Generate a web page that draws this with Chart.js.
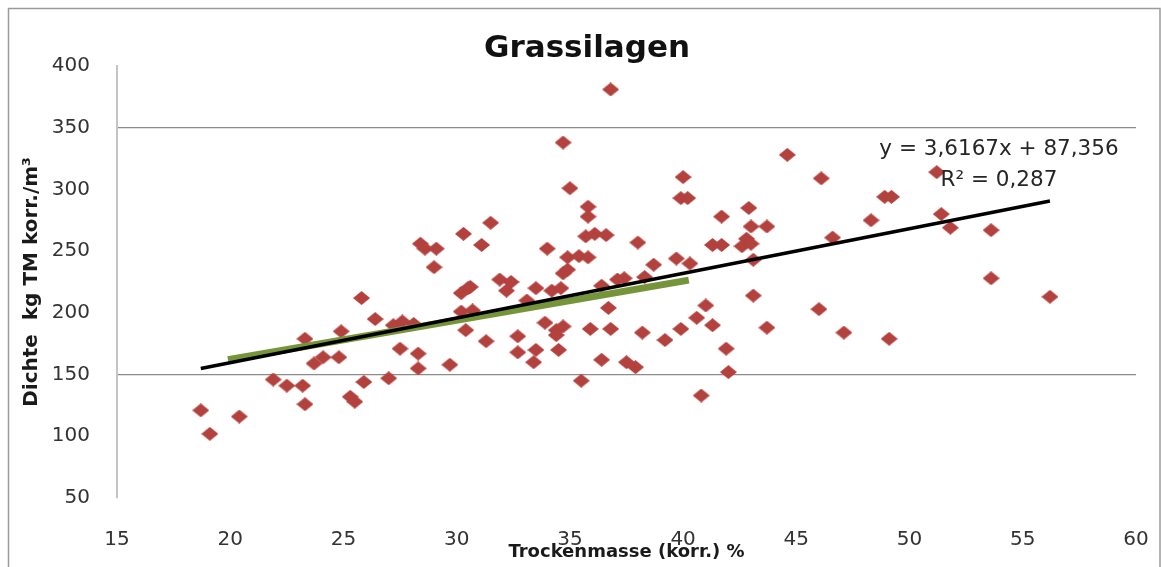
<!DOCTYPE html>
<html>
<head>
<meta charset="utf-8">
<title>Grassilagen</title>
<script src="https://cdn.jsdelivr.net/npm/chart.js@4.4.1/dist/chart.umd.min.js"></script>
<style>
  html, body { margin: 0; padding: 0; background: #ffffff; }
  #wrap { width: 1161px; height: 567px; position: relative; }
</style>
</head>
<body>
<div id="wrap"><canvas id="chart" width="1161" height="567"></canvas></div>
<script>
// Trockenmasse (korr.) in % for each silage sample
const dryMatter = [
  18.7, 19.1, 20.4, 21.9, 22.5, 23.2, 23.3, 23.3, 23.7, 24.1,
  24.9, 24.8, 25.3, 25.5, 25.8, 25.9, 26.4, 27.0, 27.5, 27.2,
  27.6, 28.3, 28.3, 28.1, 28.4, 28.6, 29.1, 29.0, 29.7, 30.4,
  30.3, 31.1, 31.5, 30.2, 30.5, 30.6, 30.2, 30.7, 31.3, 31.9,
  32.4, 32.2, 32.7, 32.7, 33.5, 33.4, 33.5, 33.1, 34.0, 33.9,
  34.4, 34.7, 34.4, 34.5, 34.2, 34.6, 34.7, 34.9, 34.9, 35.4,
  35.8, 35.0, 34.7, 35.5, 36.8, 35.8, 35.8, 35.7, 36.1, 36.6,
  38.0, 40.0, 39.9, 40.2, 41.7, 41.3, 41.7, 39.7, 40.3, 38.7,
  37.1, 37.4, 38.3, 35.9, 36.8, 36.7, 38.2, 39.2, 39.9, 40.6,
  41.0, 41.3, 36.4, 37.5, 37.9, 40.8, 44.6, 46.1, 42.9, 43.0,
  43.7, 42.8, 42.6, 43.0, 43.1, 46.6, 43.1, 43.7, 46.0, 47.1,
  41.9, 42.0, 51.2, 48.9, 49.2, 48.3, 51.4, 51.8, 53.6, 53.6,
  56.2, 49.1, 36.4
];

// Dichte in kg TM korr./m³ for the same samples
const density = [
  121, 102, 116, 146, 141, 141, 126, 179, 159, 164,
  185, 164, 132, 128, 212, 144, 195, 147, 171, 190,
  193, 167, 155, 191, 256, 252, 252, 237, 158, 186,
  264, 255, 273, 216, 220, 221, 201, 202, 177, 227,
  225, 218, 181, 168, 170, 160, 220, 210, 252, 192,
  186, 189, 182, 170, 218, 220, 232, 235, 245, 246,
  245, 301, 338, 145, 381, 286, 278, 262, 264, 263,
  257, 310, 293, 293, 278, 255, 255, 244, 240, 239,
  227, 228, 229, 187, 187, 204, 184, 178, 187, 196,
  206, 190, 162, 160, 156, 133, 328, 309, 285, 270,
  270, 260, 254, 256, 243, 261, 214, 188, 203, 184,
  171, 152, 314, 294, 294, 275, 280, 269, 267, 228,
  213, 179, 222
];

// Linear regression stated in the chart
const trendSlope = 3.6167;
const trendIntercept = 87.356;
const trendR2 = 0.287;

// Second (green) reference line, start and end
const refLineX = [19.9, 40.25];
const refLineY = [162, 226.5];

// Axis tick values
const xTickValues = [15, 20, 25, 30, 35, 40, 45, 50, 55, 60];
const yTickValues = [50, 100, 150, 200, 250, 300, 350, 400];
const yGridValues = [150, 350];

const TITLE = 'Grassilagen';
const X_TITLE = 'Trockenmasse (korr.) %';
const Y_TITLE = 'Dichte  kg TM korr./m³';

const FONT = '"DejaVu Sans", "Liberation Sans", sans-serif';
const decimalComma = v => String(v).replace('.', ',');

const samples = dryMatter.map((x, i) => ({ x: x, y: density[i] }));
const xMin = Math.min(...dryMatter);
const xMax = Math.max(...dryMatter);
const trendLine = [xMin, xMax].map(x => ({ x: x, y: trendSlope * x + trendIntercept }));
const refLine = refLineX.map((x, i) => ({ x: x, y: refLineY[i] }));

// Diamond marker, slightly wider than tall
function makeDiamond(w, h, color) {
  const c = document.createElement('canvas');
  c.width = w; c.height = h;
  const g = c.getContext('2d');
  g.fillStyle = color;
  g.beginPath();
  g.moveTo(w / 2, 0);
  g.lineTo(w, h / 2);
  g.lineTo(w / 2, h);
  g.lineTo(0, h / 2);
  g.closePath();
  g.fill();
  return c;
}
const diamond = makeDiamond(17, 14, '#b3413d');

// Frame, title and regression label
const decor = {
  id: 'decor',
  beforeDraw(chart) {
    const ctx = chart.ctx;
    ctx.save();
    ctx.fillStyle = '#ffffff';
    ctx.fillRect(0, 0, chart.width, chart.height);
    ctx.strokeStyle = '#9a9a9a';
    ctx.lineWidth = 1.5;
    ctx.strokeRect(8.5, 8.5, chart.width - 9.5, chart.height + 20);
    ctx.restore();
  },
  afterDraw(chart) {
    const ctx = chart.ctx;
    ctx.save();
    ctx.fillStyle = '#111111';
    ctx.textAlign = 'center';
    ctx.textBaseline = 'middle';
    ctx.font = 'bold 31px ' + FONT;
    ctx.fillText(TITLE, 587, 49);
    ctx.fillStyle = '#262626';
    ctx.font = '21.5px ' + FONT;
    ctx.fillText('y = ' + decimalComma(trendSlope) + 'x + ' + decimalComma(trendIntercept), 999, 149);
    ctx.fillText('R² = ' + decimalComma(trendR2), 999, 180);
    ctx.restore();
  }
};

new Chart(document.getElementById('chart'), {
  type: 'scatter',
  data: {
    datasets: [
      {
        label: 'Trend',
        data: trendLine,
        showLine: true,
        borderColor: '#000000',
        borderWidth: 3.5,
        pointRadius: 0,
        order: 0
      },
      {
        label: 'Referenz',
        data: refLine,
        showLine: true,
        borderColor: '#76953a',
        borderWidth: 7,
        pointRadius: 0,
        order: 1
      },
      {
        label: 'Grassilagen',
        data: samples,
        pointStyle: diamond,
        pointRadius: 8,
        order: 2
      }
    ]
  },
  options: {
    responsive: false,
    animation: false,
    devicePixelRatio: 1,
    layout: { padding: { left: 0, right: 25, top: 66, bottom: 0 } },
    plugins: {
      legend: { display: false },
      tooltip: { enabled: false },
      title: { display: false }
    },
    scales: {
      x: {
        type: 'linear',
        min: xTickValues[0],
        max: xTickValues[xTickValues.length - 1],
        afterBuildTicks: s => { s.ticks = xTickValues.map(v => ({ value: v })); },
        afterFit: s => { s.height = 69; },
        border: { display: false },
        grid: {
          display: true,
          color: 'rgba(0,0,0,0)',
          drawTicks: true,
          tickLength: 30
        },
        ticks: {
          padding: 0,
          color: '#333333',
          font: { family: FONT, size: 20 }
        },
        title: {
          display: true,
          text: X_TITLE,
          color: '#1a1a1a',
          font: { family: FONT, size: 18, weight: 'bold' },
          padding: { top: 0, bottom: 4 }
        }
      },
      y: {
        type: 'linear',
        min: yTickValues[0],
        max: yTickValues[yTickValues.length - 1],
        afterBuildTicks: s => { s.ticks = yTickValues.map(v => ({ value: v })); },
        afterFit: s => { s.width = 117; },
        border: { display: true, color: '#c4c4c4', width: 2 },
        grid: {
          drawTicks: false,
          color: c => (c.tick && yGridValues.includes(c.tick.value)) ? '#8c8c8c' : 'rgba(0,0,0,0)',
          lineWidth: 1.2
        },
        ticks: {
          padding: 27,
          color: '#333333',
          font: { family: FONT, size: 20 }
        },
        title: {
          display: true,
          text: Y_TITLE,
          color: '#1a1a1a',
          font: { family: FONT, size: 20, weight: 'bold' },
          padding: { top: 20, bottom: 0 }
        }
      }
    }
  },
  plugins: [decor]
});
</script>
</body>
</html>
